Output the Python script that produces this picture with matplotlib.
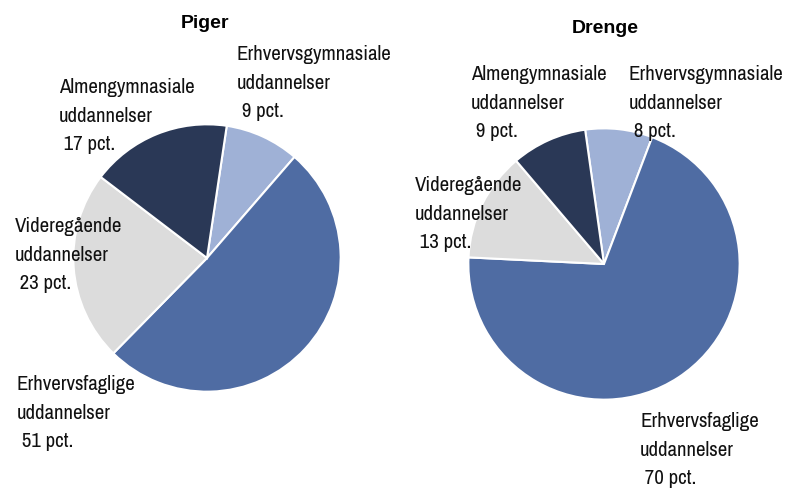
import matplotlib
matplotlib.use('Agg')
import matplotlib.pyplot as plt
from matplotlib import font_manager

# Data
kategorier = ['Erhvervsgymnasiale\nuddannelser', 'Erhvervsfaglige\nuddannelser',
              'Videregående\nuddannelser', 'Almengymnasiale\nuddannelser']
piger = [9, 51, 23, 17]
drenge = [8, 70, 13, 9]
farver = ['#9fb1d6', '#4f6ca3', '#dcdcdc', '#2a3856']

W, H = 790, 490

# smal skrift hvis den findes, ellers Liberation Sans i lidt mindre størrelse
navne = sorted({f.name for f in font_manager.fontManager.ttflist})
smalle = [n for n in navne if 'Narrow' in n or 'Condensed' in n]
if smalle:
    skrift, str_lab = smalle[0], 15
else:
    skrift, str_lab = 'Liberation Sans', 13.2
plt.rcParams['font.family'] = [skrift, 'DejaVu Sans']

fig = plt.figure(figsize=(W / 100, H / 100), dpi=100)


def px(x, y):
    # pixel (fra top-venstre) -> figurkoordinater
    return x / W, 1 - y / H


def tegn_pie(cx, cy, r, values, start, titel, tx, ty, labels_pos):
    ax = fig.add_axes([(cx - r) / W, (H - cy - r) / H, 2 * r / W, 2 * r / H])
    ax.pie(values, colors=farver, startangle=start, counterclock=False,
           wedgeprops=dict(edgecolor='white', linewidth=1.5))
    ax.set_xlim(-1.01, 1.01)
    ax.set_ylim(-1.01, 1.01)
    ax.axis('off')
    fig.text(*px(tx, ty), titel, ha='center', va='baseline', fontsize=14,
             fontweight='bold', family=['Liberation Sans', 'DejaVu Sans'])
    for lab, v, (lx, ly) in zip(kategorier, values, labels_pos):
        linjer = lab.split('\n') + [' %d pct.' % v]
        for i, l in enumerate(linjer):
            fig.text(*px(lx, ly + i * 28.7), l, ha='left', va='baseline',
                     fontsize=str_lab, color='#111111')


tegn_pie(207, 258, 135, piger, 81.5, 'Piger', 205, 28,
         [(237, 60), (17, 390), (15, 232), (59, 93)])
tegn_pie(604, 264, 137, drenge, 98, 'Drenge', 605, 33,
         [(629, 80), (640, 427), (415, 191), (471, 80)])

fig.savefig('out.png', dpi=100)
